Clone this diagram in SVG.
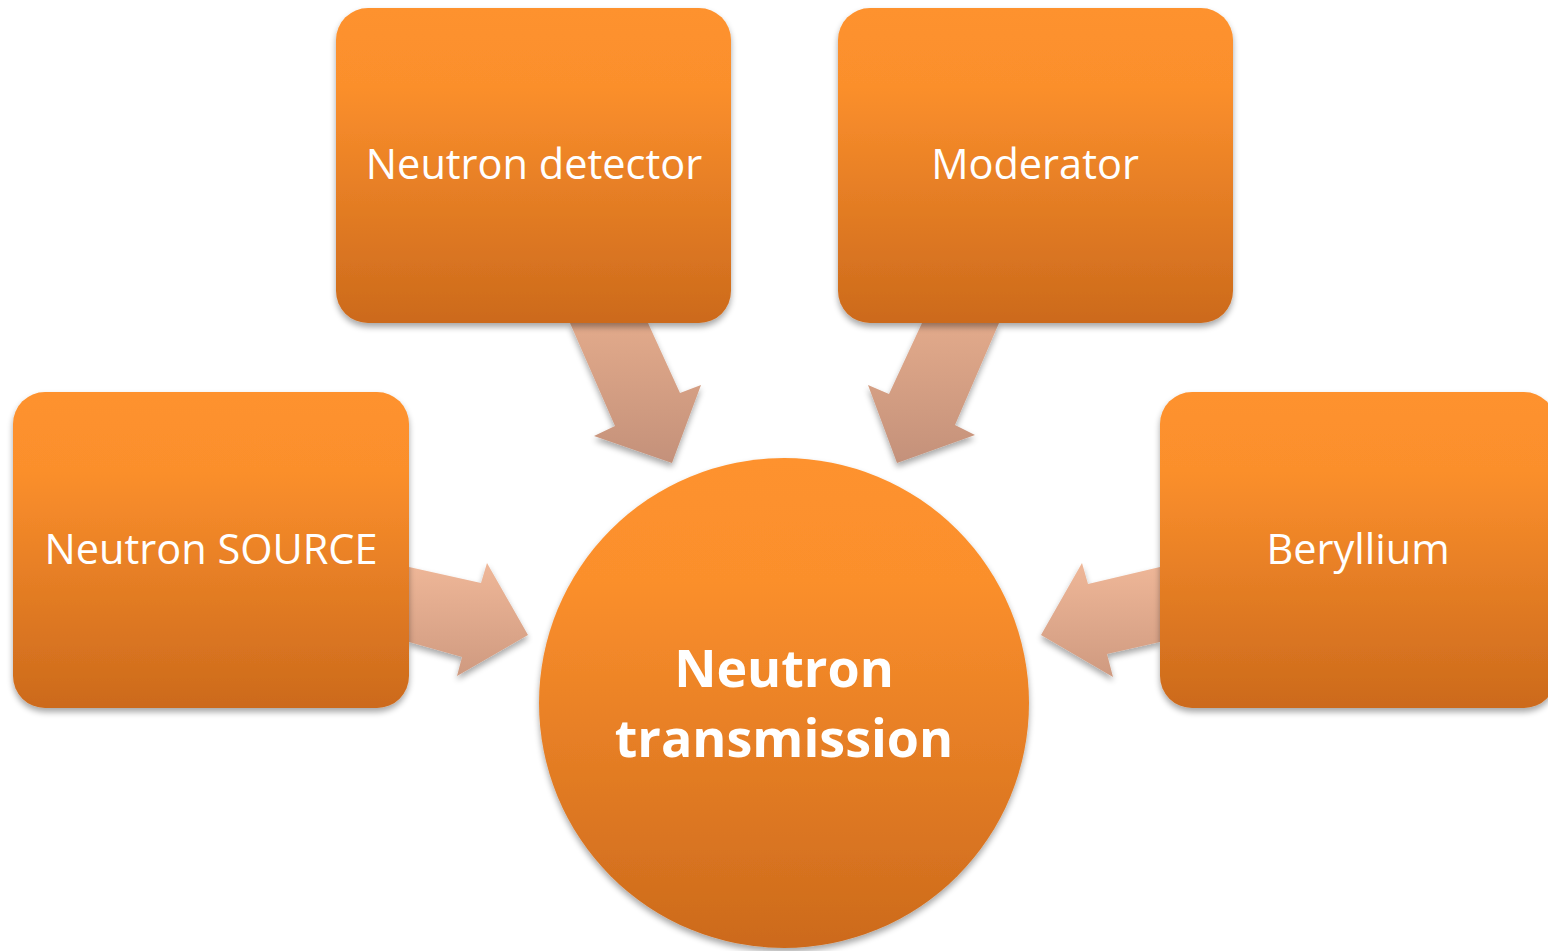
<svg xmlns="http://www.w3.org/2000/svg" width="1548" height="951" viewBox="0 0 1548 951">
<style>
.box{fill:url(#og);filter:url(#sh)}
.lbl{font-family:"Open Sans","Noto Sans",sans-serif;font-size:41.5px;fill:#fff;text-anchor:middle}
.big{font-family:"Open Sans","Noto Sans",sans-serif;font-size:52px;font-weight:bold;fill:#fff;text-anchor:middle}
.arr{filter:url(#sh)}
</style>
<defs>
<linearGradient id="og" x1="0" y1="0" x2="0" y2="1">
<stop offset="0" stop-color="#fe922e"/>
<stop offset="0.25" stop-color="#fb8f2c"/>
<stop offset="1" stop-color="#cc6a1c"/>
</linearGradient>
<linearGradient id="ag" x1="0" y1="0" x2="0" y2="1">
<stop offset="0" stop-color="#e2aa8b"/>
<stop offset="1" stop-color="#c4917a"/>
</linearGradient>
<linearGradient id="ag2" x1="0" y1="0" x2="0" y2="1">
<stop offset="0" stop-color="#efb798"/>
<stop offset="1" stop-color="#cf9a80"/>
</linearGradient>
<filter id="sh" x="-10%" y="-10%" width="120%" height="125%">
<feGaussianBlur in="SourceAlpha" stdDeviation="3"/>
<feOffset dx="0" dy="4" result="b"/>
<feComponentTransfer><feFuncA type="linear" slope="0.35"/></feComponentTransfer>
<feMerge><feMergeNode/><feMergeNode in="SourceGraphic"/></feMerge>
</filter>
</defs>
<rect width="1548" height="951" fill="#fff"/>
<g id="connectors">
<polygon class="arr" fill="url(#ag)" points="570,323 648,323 680,393 701,385 672,463 594,436 615,426"/>
<polygon class="arr" fill="url(#ag)" points="922,323 999,323 955,425 975,435 897,463 868,385 889,394"/>
<polygon class="arr" fill="url(#ag2)" points="409,567 481,583 487,563 528,635 457,676 462,657 409,642"/>
<polygon class="arr" fill="url(#ag2)" points="1160,567 1088,584 1082,563 1041,635 1113,677 1107,654 1160,642"/>
</g>
<g id="center">
<circle class="box" cx="784" cy="703" r="245"/>
<text class="big" x="784" y="687">Neutron</text>
<text class="big" x="784" y="757">transmission</text>
</g>
<g id="detector">
<rect class="box" x="336" y="8" width="395" height="315" rx="32"/>
<text class="lbl" x="534" y="179">Neutron detector</text>
</g>
<g id="moderator">
<rect class="box" x="838" y="8" width="395" height="315" rx="32"/>
<text class="lbl" x="1035" y="179">Moderator</text>
</g>
<g id="source">
<rect class="box" x="13" y="392" width="396" height="316" rx="32"/>
<text class="lbl" x="211" y="564">Neutron SOURCE</text>
</g>
<g id="beryllium">
<rect class="box" x="1160" y="392" width="396" height="316" rx="32"/>
<text class="lbl" x="1358" y="564">Beryllium</text>
</g>
</svg>
